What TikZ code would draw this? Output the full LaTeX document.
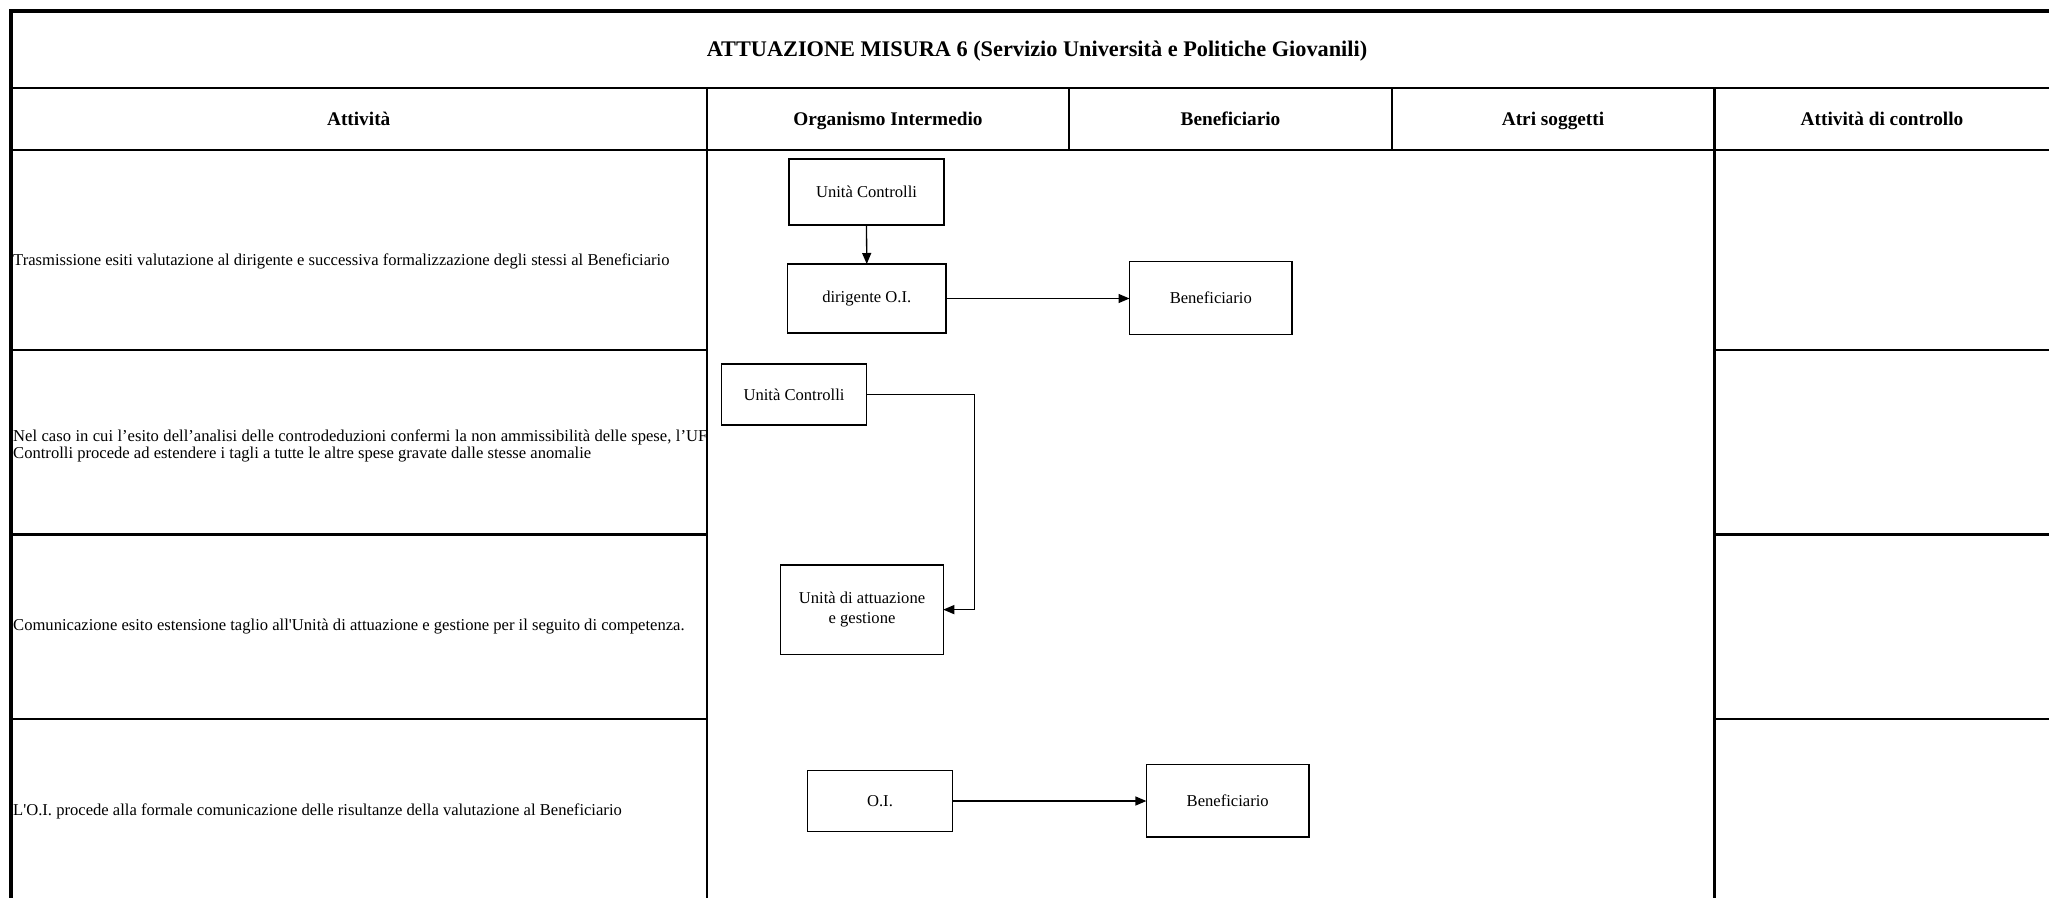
\documentclass[tikz,border=0pt]{standalone}
\usepackage{fontspec}
\setmainfont{Liberation Serif}
\usetikzlibrary{arrows.meta}

\begin{document}
\begin{tikzpicture}[x=1pt,y=-1pt,
  outer/.style={line width=4pt},
  grid/.style={line width=2.2pt},
  box/.style={draw, line width=1.2pt, inner sep=2pt, outer sep=0pt, align=center,
    font=\fontsize{16.6}{19.5}\selectfont},
  flow/.style={line width=1.3pt, -{Triangle[length=11pt,width=9pt]}},
  rowtext/.style={anchor=base west, inner sep=0pt, font=\fontsize{16.6}{18}\selectfont},
  head/.style={anchor=base, inner sep=0pt, font=\bfseries\fontsize{19.3}{22}\selectfont},
  titletext/.style={anchor=base, inner sep=0pt, font=\bfseries\fontsize{22.3}{26}\selectfont}]
\useasboundingbox (0,0) rectangle (2049,897);
\fill[white] (0,0) rectangle (2049,897);
\clip (0,0) rectangle (2049,897);

% table frame
\draw[outer] (10.5,910) -- (10.5,10.5) -- (2060,10.5);
\draw[grid] (10.5,87.6) -- (2060,87.6);
\draw[grid] (10.5,150.3) -- (2060,150.3);
\draw[grid] (707,87.6) -- (707,910);
\draw[grid] (1069,87.6) -- (1069,150.3);
\draw[grid] (1392,87.6) -- (1392,150.3);
\draw[grid] (1714.5,87.6) -- (1714.5,910);
\foreach \yy in {350.2,534.5,718.7} {
  \draw[grid] (10.5,\yy) -- (707,\yy);
  \draw[grid] (1714.5,\yy) -- (2060,\yy);
}

% title and column headings
\node[titletext] (title) at (1037,56) {ATTUAZIONE MISURA 6 (Servizio Università e Politiche Giovanili)};
\node[head] (hatt) at (358.7,125.5) {Attività};
\node[head] (horg) at (888,125.5) {Organismo Intermedio};
\node[head] (hben) at (1230.5,125.5) {Beneficiario};
\node[head] (hatr) at (1553,125.5) {Atri soggetti};
\node[head] (hctl) at (1882,125.5) {Attività di controllo};

% activity descriptions
\node[rowtext] (r1) at (13,265.5) {Trasmissione esiti valutazione al dirigente e successiva formalizzazione degli stessi al Beneficiario};
\node[rowtext] (r2a) at (13,441) {\makebox[694pt][s]{Nel caso in cui l’esito dell’analisi delle controdeduzioni confermi la non ammissibilità delle spese, l’UF}};
\node[rowtext] (r2b) at (13,458.5) {Controlli procede ad estendere i tagli a tutte le altre spese gravate dalle stesse anomalie};
\node[rowtext] (r3) at (13,630.5) {Comunicazione esito estensione taglio all\textquotesingle Unità di attuazione e gestione per il seguito di competenza.};
\node[rowtext] (r4) at (13,815) {L\textquotesingle O.I. procede alla formale comunicazione delle risultanze della valutazione al Beneficiario};

% flow boxes
\node[box, minimum width=155pt, minimum height=66pt] (uc1) at (866.5,192) {Unità Controlli};
\node[box, minimum width=158.5pt, minimum height=69pt] (dir) at (866.75,298.5) {dirigente O.I.};
\node[box, minimum width=162.5pt, minimum height=72.6pt] (ben1) at (1210.75,298) {Beneficiario};
\node[box, minimum width=145pt, minimum height=61pt] (uc2) at (794,394.5) {Unità Controlli};
\node[box, minimum width=162.5pt, minimum height=89.3pt] (uag) at (862,609.6) {Unità di attuazione\\e gestione};
\node[box, minimum width=145.7pt, minimum height=60.6pt] (oi) at (880,801) {O.I.};
\node[box, minimum width=162.6pt, minimum height=72.7pt] (ben2) at (1227.7,800.6) {Beneficiario};

% connectors
\draw[flow] (uc1.south) -- (dir.north);
\draw[flow] (dir.east) -- (ben1.west |- dir.east);
\draw[flow] (uc2.east) -- ++(108,0) |- (uag.east);
\draw[flow] (oi.east) -- (ben2.west |- oi.east);
\end{tikzpicture}
\end{document}
